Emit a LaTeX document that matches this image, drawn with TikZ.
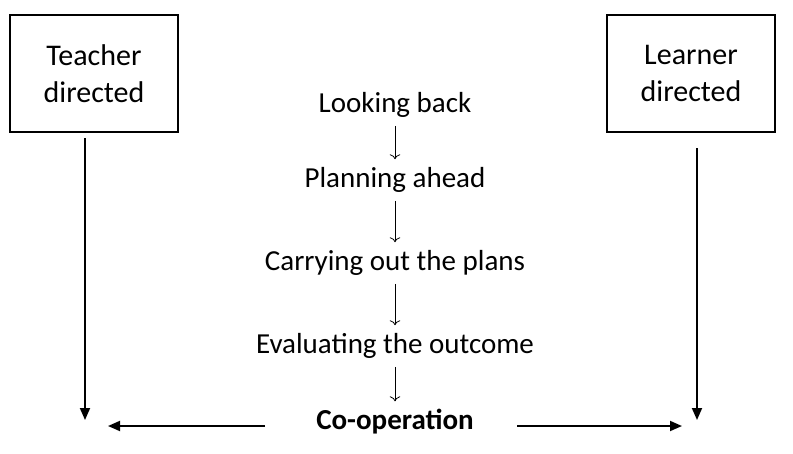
\documentclass[tikz,border=0pt]{standalone}
\usepackage{fontspec}
\setmainfont{Carlito}
\usetikzlibrary{arrows.meta}
\begin{document}
\begin{tikzpicture}[x=1pt,y=-1pt,
  box/.style={draw,line width=1.2pt,minimum width=168pt,minimum height=117pt,align=center,font=\fontsize{30}{37}\selectfont},
  lbl/.style={font=\fontsize{29}{33}\selectfont,inner sep=1pt},
  big/.style={line width=1.8pt,-{Triangle[length=12pt,width=10pt]}},
  small/.style={line width=0.8pt,-{To[length=5pt]},shorten <=7pt,shorten >=7pt}]
\useasboundingbox (0,0) rectangle (793,453);
\node[box] (t) at (94,73.5) {Teacher\\directed};
\node[box] (l) at (691,73.5) {Learner\\directed};
\node[lbl] (a) at (395,105) {Looking back};
\node[lbl] (b) at (395,180) {Planning ahead};
\node[lbl] (c) at (395,263) {Carrying out the plans};
\node[lbl] (d) at (395,346) {Evaluating the outcome};
\node[lbl,font=\fontsize{29}{33}\selectfont\bfseries] (e) at (395,422) {Co-operation};
\coordinate (tb) at (85,138);
\coordinate (te) at (85,420);
\coordinate (lb) at (697,148);
\coordinate (le) at (697,420);
\coordinate (le2) at (108,426);
\coordinate (re2) at (682,426);
\draw[big] (tb) -- (te);
\draw[big] (lb) -- (le);
\draw[small] (a) -- (b);
\draw[small] (b) -- (c);
\draw[small] (c) -- (d);
\draw[small] (d) -- (e);
\draw[big] (265,426) -- (le2);
\draw[big] (517,426) -- (re2);
\end{tikzpicture}
\end{document}
